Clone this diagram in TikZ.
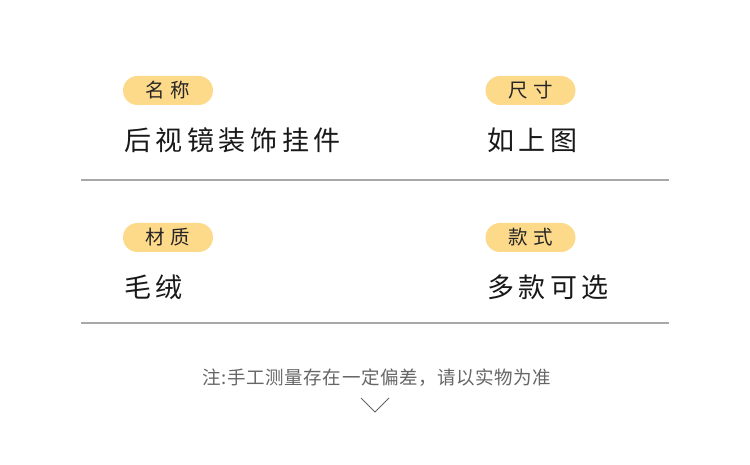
\documentclass[tikz,border=0pt]{standalone}
\usepackage{fontspec}
\usepackage{tikz}
\usetikzlibrary{positioning}
\newfontfamily\cjkval{Noto Sans CJK SC}[LetterSpace=17]
\newfontfamily\cjktag{Noto Sans CJK SC}[LetterSpace=30]
\newfontfamily\cjknote{Noto Sans CJK SC}[LetterSpace=3]
\definecolor{pillfill}{HTML}{FDD98A}
\definecolor{rulegray}{HTML}{A8A8A8}
\definecolor{notegray}{HTML}{666666}
\tikzset{
	tag/.style={
		% The shape:
		rectangle,rounded corners=14.5pt,
		% The size:
		minimum width=90pt,minimum height=29pt,inner sep=0pt,
		% The filling:
		fill=pillfill,
		% The text:
		text=black!85,font=\cjktag\fontsize{19.5}{19.5}\selectfont
	}}
\tikzset{
	value/.style={
		anchor=west,inner sep=0pt,
		text=black!90,font=\cjkval\fontsize{27}{27}\selectfont
	}}
\tikzset{
	divider/.style={
		draw=rulegray,line width=2pt
	}}

\begin{document}
\begin{tikzpicture}[x=1pt,y=-1pt]
	\useasboundingbox[fill=white] (0,0) rectangle (750,465);
	% first row
	\node[tag] (name) at (168,90.5) {名称};
	\node[tag] (size) at (530.5,90.5) {尺寸};
	\node[value] (namev) at (124,140) {后视镜装饰挂件};
	\node[value] (sizev) at (487,140) {如上图};
	\coordinate (r1a) at (81,180);
	\coordinate (r1b) at (669,180);
	\draw[divider] (r1a) -- (r1b);
	% second row
	\node[tag] (mat) at (168,237.5) {材质};
	\node[tag] (style) at (530.5,237.5) {款式};
	\node[value] (matv) at (124,287.5) {毛绒};
	\node[value] (stylev) at (487,287.5) {多款可选};
	\coordinate (r2a) at (81,323);
	\coordinate (r2b) at (669,323);
	\draw[divider] (r2a) -- (r2b);
	% note
	\node[text=notegray,font=\cjknote\fontsize{18.5}{18.5}\selectfont,inner sep=0pt] (note) at (377,378) {注:手工测量存在一定偏差，请以实物为准};
	\coordinate (va) at (361,398);
	\coordinate (vb) at (375,412);
	\coordinate (vc) at (389,398);
	\draw[notegray,line width=0.8pt] (va) -- (vb) -- (vc);
\end{tikzpicture}
\end{document}
